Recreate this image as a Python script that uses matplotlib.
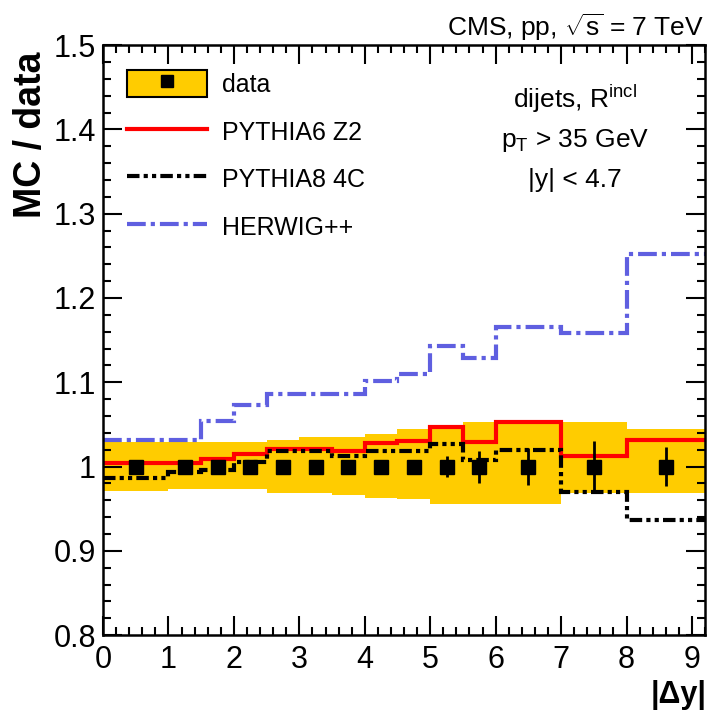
import matplotlib
matplotlib.use("Agg")
import matplotlib.pyplot as plt
from matplotlib.patches import Patch
from matplotlib.lines import Line2D
from matplotlib.ticker import MultipleLocator, FormatStrFormatter

# bin edges in |dy| and bin-by-bin ratios MC / data
edges = [0, 1, 1.5, 2, 2.5, 3, 3.5, 4, 4.5, 5, 5.5, 6, 7, 8, 9.2]
data_ratio = [1, 1, 1, 1, 1, 1, 1, 1, 1, 1, 1, 1, 1, 1]
data_err = [0.003, 0.003, 0.004, 0.004, 0.005, 0.005, 0.006, 0.007, 0.008, 0.013,
            0.019, 0.022, 0.030, 0.023]
band_up = [1.029, 1.029, 1.029, 1.029, 1.031, 1.035, 1.035, 1.039, 1.044, 1.049,
           1.053, 1.054, 1.053, 1.044]
band_dn = [0.971, 0.973, 0.973, 0.973, 0.969, 0.969, 0.966, 0.963, 0.962, 0.955,
           0.955, 0.955, 0.969, 0.969]
pythia6 = [1.004, 1.004, 1.009, 1.015, 1.021, 1.021, 1.019, 1.028, 1.030, 1.047,
           1.029, 1.053, 1.012, 1.032]
pythia8 = [0.986, 0.993, 0.996, 1.005, 1.018, 1.018, 1.012, 1.018, 1.018, 1.027,
           1.008, 1.020, 0.970, 0.937]
herwig = [1.032, 1.032, 1.054, 1.073, 1.086, 1.086, 1.086, 1.101, 1.110, 1.143,
          1.129, 1.165, 1.159, 1.252]

plt.rcParams["font.family"] = ["Liberation Sans", "DejaVu Sans"]
plt.rcParams["mathtext.fontset"] = "custom"
plt.rcParams["mathtext.rm"] = "Liberation Sans"
plt.rcParams["mathtext.it"] = "Liberation Sans:italic"
plt.rcParams["mathtext.bf"] = "Liberation Sans:bold"

yellow = "#ffcc00"
red = "#ff0000"
blue = "#5f5fe0"

fig = plt.figure(figsize=(7.11, 7.12), dpi=100)
ax = fig.add_axes([0.1449, 0.108, 0.8467, 0.8287])

centers = [(edges[i] + edges[i + 1]) / 2 for i in range(len(edges) - 1)]

# systematic band
ax.stairs(band_up, edges, baseline=band_dn, fill=True, color=yellow, lw=0)

ls_p8 = (0, (3, 1, 1, 1, 1, 1))
ls_hw = (0, (4.5, 1.2, 1, 1.2))

ax.stairs(herwig, edges, baseline=None, color=blue, lw=3, linestyle=ls_hw)
ax.stairs(pythia6, edges, baseline=None, color=red, lw=3)
ax.stairs(pythia8, edges, baseline=None, color="black", lw=3, linestyle=ls_p8)

ax.errorbar(centers, data_ratio, yerr=data_err, fmt="s", color="black",
            ms=10, elinewidth=2, capsize=0, zorder=5)

ax.set_xlim(0, 9.2)
ax.set_ylim(0.8, 1.5)
ax.xaxis.set_major_locator(MultipleLocator(1))
ax.xaxis.set_minor_locator(MultipleLocator(0.2))
ax.yaxis.set_major_locator(MultipleLocator(0.1))
ax.yaxis.set_minor_locator(MultipleLocator(0.02))
ax.yaxis.set_major_formatter(FormatStrFormatter("%g"))
ax.tick_params(which="both", direction="in", top=True, right=True, width=1.5)
ax.tick_params(which="major", length=14, labelsize=22)
ax.tick_params(which="minor", length=6)
ax.tick_params(axis="y", pad=5)
ax.tick_params(axis="x", pad=7)
for s in ax.spines.values():
    s.set_linewidth(1.8)

# axis titles
fig.text(0.044, 0.927, "MC / data", rotation=90, ha="center", va="top",
         fontsize=27, fontweight="bold")
fig.text(0.994, 0.003, "|\u0394y|", ha="right", va="bottom",
         fontsize=22, fontweight="bold")

fig.text(0.991, 0.949, "CMS, pp, $\\sqrt{\\mathrm{s}}$ = 7 TeV", ha="right",
         va="baseline", fontsize=19)

ax.text(0.784, 0.893, "dijets, R$^{\\mathrm{incl}}$", transform=ax.transAxes,
        ha="center", va="baseline", fontsize=19)
ax.text(0.784, 0.828, "p$_{\\mathrm{T}}$ > 35 GeV", transform=ax.transAxes,
        ha="center", va="baseline", fontsize=19)
ax.text(0.784, 0.760, "|y| < 4.7", transform=ax.transAxes,
        ha="center", va="baseline", fontsize=19)

# legend
h_data = (Patch(facecolor=yellow, edgecolor="black", linewidth=1.5),
          Line2D([], [], marker="s", color="black", linestyle="none", markersize=9))
h_p6 = Line2D([], [], color=red, lw=3)
h_p8 = Line2D([], [], color="black", lw=3, linestyle=ls_p8)
h_hw = Line2D([], [], color=blue, lw=3, linestyle=ls_hw)
ax.legend([h_data, h_p6, h_p8, h_hw],
          ["data", "PYTHIA6 Z2", "PYTHIA8 4C", "HERWIG++"],
          loc="upper left", bbox_to_anchor=(0.04, 0.958), frameon=False,
          fontsize=18, borderpad=0, borderaxespad=0, handlelength=3.2,
          handleheight=1.3, labelspacing=0.82, handletextpad=0.6)

fig.savefig("out.png", dpi=100)
